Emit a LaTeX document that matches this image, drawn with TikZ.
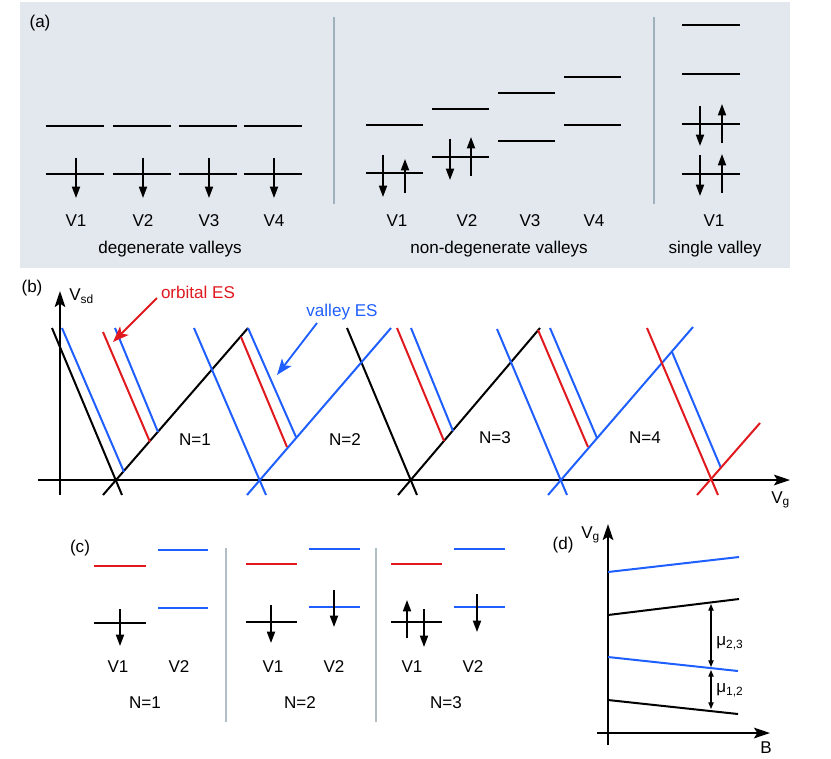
\documentclass[tikz,border=0pt]{standalone}
\usepackage{fontspec}
\setmainfont{Liberation Sans}
\usetikzlibrary{arrows.meta}
\definecolor{bgc}{RGB}{226,232,238}
\definecolor{divc}{RGB}{157,176,187}
\definecolor{divc2}{RGB}{178,190,198}
\definecolor{bl}{RGB}{31,95,255}
\definecolor{rd}{RGB}{224,25,30}
\begin{document}
\begin{tikzpicture}[x=0.75pt,y=-0.75pt,
  font=\fontsize{12.8}{15}\selectfont,
  lvl/.style={line width=1.9pt},
  spin/.style={line width=1.3pt,-{Triangle[length=8.5pt,width=6pt]}},
  bline/.style={line width=1.5pt},
  cline/.style={line width=1.4pt},
  axis/.style={line width=1.6pt,-{Stealth[length=12pt,width=8pt,inset=2.5pt]}},
  lab/.style={inner sep=0pt},
  divider/.style={divc,line width=1pt},
  dim/.style={line width=0.8pt,{Triangle[length=5pt,width=4pt]}-{Triangle[length=5pt,width=4pt]}}]
\useasboundingbox (0,0) rectangle (831,758);
% ---------------- (a) ----------------
\fill[bgc] (20,2) rectangle (790,268);
\node[lab] (la) at (40,23) {(a)};
\draw[divider] (334,17) -- (334,204);
\draw[divider] (654,17) -- (654,204);
% degenerate valleys
\foreach \x/\n in {46/1,113/2,179/3,244/4}{
  \draw[lvl] (\x,126) -- ++(58,0);
  \draw[lvl] (\x,174) -- ++(58,0);
  \draw[spin] (\x+30,158) -- (\x+30,198);
  \node[lab] (dv\n) at (\x+30,221) {V\n};
}
\node[lab] (degtxt) at (170,249) {degenerate valleys};
% non-degenerate valleys
\foreach \x/\t/\b/\n in {366/125/173/1,432/109/157/2,498/93/141/3,564/77/125/4}{
  \draw[lvl] (\x,\t) -- ++(57,0);
  \draw[lvl] (\x,\b) -- ++(57,0);
}
\draw[spin] (383,155) -- (383,197);
\draw[spin] (405,193) -- (405,159);
\draw[spin] (450,139) -- (450,180);
\draw[spin] (471,176) -- (471,137);
\node[lab] (nv1) at (397,221) {V1};
\node[lab] (nv2) at (467,221) {V2};
\node[lab] (nv3) at (530,221) {V3};
\node[lab] (nv4) at (594,221) {V4};
\node[lab] (ndtxt) at (499,249) {non-degenerate valleys};
% single valley
\foreach \y in {25,74,124,174}{\draw[lvl] (682,\y) -- (740,\y);}
\draw[spin] (700,106) -- (700,146);
\draw[spin] (722,143) -- (722,104);
\draw[spin] (700,155) -- (700,196);
\draw[spin] (722,193) -- (722,154);
\node[lab] (sv1) at (714,221) {V1};
\node[lab] (svtxt) at (715,249) {single valley};
% ---------------- (b) ----------------
\node[lab] (lb) at (32,288) {(b)};
\draw[axis] (38,480) -- (790,480);
\draw[axis] (60,495) -- (60,291);
\node[lab,anchor=base west] (vsd) at (69,300) {V\textsubscript{sd}};
\node[lab,anchor=base west] (vg) at (771,503) {V\textsubscript{g}};
% black
\draw[bline] (52,328) -- (122,495);
\draw[bline] (103,495) -- (248,328);
\draw[bline] (347,328) -- (417,495);
\draw[bline] (398,495) -- (540,328);
% blue
\draw[bline,bl] (62,328) -- (124,472);
\draw[bline,bl] (115,328) -- (158,432);
\draw[bline,bl] (194,328) -- (266,495);
\draw[bline,bl] (248,328) -- (296,437);
\draw[bline,bl] (247,495) -- (391,328);
\draw[bline,bl] (411,328) -- (453,431);
\draw[bline,bl] (497,329) -- (567,495);
\draw[bline,bl] (550,328) -- (597,438);
\draw[bline,bl] (548,495) -- (693,327);
\draw[bline,bl] (672,352) -- (721,468);
% red
\draw[bline,rd] (103,332) -- (150,442);
\draw[bline,rd] (241,337) -- (287,447);
\draw[bline,rd] (397,328) -- (444,441);
\draw[bline,rd] (538,330) -- (588,447);
\draw[bline,rd] (647,328) -- (718,495);
\draw[bline,rd] (697,495) -- (760,423);
% labels
\node[lab,rd] (orb) at (198,292) {orbital ES};
\coordinate (orbtip) at (113,342);
\draw[rd,line width=1.4pt,-{Stealth[length=12pt,width=9pt,inset=3pt]}] (157,298) -- (orbtip);
\node[lab,bl] (val) at (342,312) {valley ES};
\coordinate (valtip) at (277,375);
\draw[bl,line width=1.4pt,-{Stealth[length=12pt,width=9pt,inset=3pt]}] (317,323) -- (valtip);
\node[lab] (n1) at (195,440) {N=1};
\node[lab] (n2) at (345,440) {N=2};
\node[lab] (n3) at (495,438) {N=3};
\node[lab] (n4) at (645,438) {N=4};
% ---------------- (c) ----------------
\node[lab] (lc) at (80,548) {(c)};
\draw[divc2,line width=1.2pt] (226,548) -- (226,722);
\draw[divc2,line width=1.2pt] (376,548) -- (376,722);
% N=1
\draw[cline,rd] (94,566) -- (146,566);
\draw[cline,bl] (158,550) -- (208,550);
\draw[cline,bl] (158,608) -- (208,608);
\draw[cline] (94,623) -- (146,623);
\draw[spin] (120,609) -- (120,646);
\node[lab] (c1v1) at (118,667) {V1};
\node[lab] (c1v2) at (179,667) {V2};
\node[lab] (c1n) at (145,703) {N=1};
% N=2
\draw[cline,rd] (246,564) -- (297,564);
\draw[cline,bl] (309,549) -- (360,549);
\draw[cline,bl] (309,607) -- (360,607);
\draw[cline] (246,622) -- (297,622);
\draw[spin] (271,605) -- (271,643);
\draw[spin] (334,590) -- (334,627);
\node[lab] (c2v1) at (273,667) {V1};
\node[lab] (c2v2) at (334,667) {V2};
\node[lab] (c2n) at (300,703) {N=2};
% N=3
\draw[cline,rd] (391,564) -- (442,564);
\draw[cline,bl] (454,549) -- (505,549);
\draw[cline,bl] (454,607) -- (505,607);
\draw[cline] (391,622) -- (442,622);
\draw[spin] (407,638) -- (407,600);
\draw[spin] (424,609) -- (424,647);
\draw[spin] (477,594) -- (477,632);
\node[lab] (c3v1) at (412,667) {V1};
\node[lab] (c3v2) at (473,667) {V2};
\node[lab] (c3n) at (446,703) {N=3};
% ---------------- (d) ----------------
\node[lab] (ld) at (563,545) {(d)};
\draw[axis] (608,745) -- (608,524);
\draw[axis] (597,733) -- (770,733);
\node[lab,anchor=base west] (dvg) at (581,538) {V\textsubscript{g}};
\node[lab] (db) at (766,748) {B};
\draw[bline,bl] (608,572) -- (739,557);
\draw[bline] (608,615) -- (739,599);
\draw[bline,bl] (608,657) -- (738,671);
\draw[bline] (608,700) -- (738,714);
\coordinate (m1) at (711,604);
\coordinate (m2) at (711,667);
\coordinate (m3) at (711,670);
\coordinate (m4) at (711,709);
\draw[dim] (m1) -- (m2);
\draw[dim] (m3) -- (m4);
\node[lab,anchor=west] (mu23) at (716,643) {μ\textsubscript{2,3}};
\node[lab,anchor=west] (mu12) at (716,690) {μ\textsubscript{1,2}};
\end{tikzpicture}
\end{document}
